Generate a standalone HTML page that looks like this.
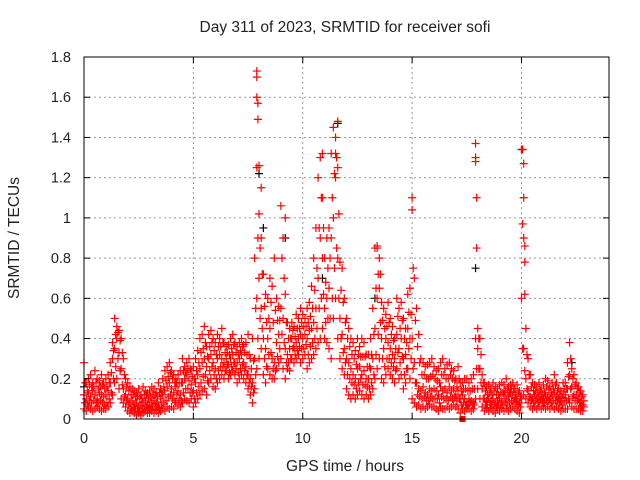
<!DOCTYPE html>
<html><head><meta charset="utf-8"><style>
body{margin:0;background:#fff}
svg{display:block;font-family:"Liberation Sans",sans-serif}
</style></head><body>
<svg id="chart" width="640" height="480" viewBox="0 0 640 480">
<rect x="0" y="0" width="640" height="480" fill="#fff"/>
<text x="345" y="32" text-anchor="middle" font-size="15.5" fill="#222">Day 311 of 2023, SRMTID for receiver sofi</text>
<text x="345" y="471" text-anchor="middle" font-size="15.5" fill="#222">GPS time / hours</text>
<text transform="translate(19,238) rotate(-90)" text-anchor="middle" font-size="15.5" fill="#222">SRMTID / TECUs</text>
<g id="grid"></g>
<g id="marks"></g>
<rect x="84" y="57" width="525" height="362" fill="none" stroke="#000" stroke-width="1"/>
<g id="axes"></g>
</svg>
<script>
const xTicks = [0, 5, 10, 15, 20];
const yTicks = [0, 0.2, 0.4, 0.6, 0.8, 1, 1.2, 1.4, 1.6, 1.8];
const yTickLabels = ["0","0.2","0.4","0.6","0.8","1","1.2","1.4","1.6","1.8"];
const hours = [0.0,0.1,0.2,0.3,0.4,0.5,0.6,0.7,0.8,0.9,1.0,1.1,1.2,1.3,1.4,1.5,1.6,1.7,1.8,1.9,2.0,2.1,2.2,2.3,2.4,2.5,2.6,2.7,2.8,2.9,3.0,3.1,3.2,3.3,3.4,3.5,3.6,3.7,3.8,3.9,4.0,4.1,4.2,4.3,4.4,4.5,4.6,4.7,4.8,4.9,5.0,5.1,5.2,5.3,5.4,5.5,5.6,5.7,5.8,5.9,6.0,6.1,6.2,6.3,6.4,6.5,6.6,6.7,6.8,6.9,7.0,7.1,7.2,7.3,7.4,7.5,7.6,7.7,7.8,7.9,8.0,8.1,8.2,8.3,8.4,8.5,8.6,8.7,8.8,8.9,9.0,9.1,9.2,9.3,9.4,9.5,9.6,9.7,9.8,9.9,10.0,10.1,10.2,10.3,10.4,10.5,10.6,10.7,10.8,10.9,11.0,11.1,11.2,11.3,11.4,11.5,11.6,11.7,11.8,11.9,12.0,12.1,12.2,12.3,12.4,12.5,12.6,12.7,12.8,12.9,13.0,13.1,13.2,13.3,13.4,13.5,13.6,13.7,13.8,13.9,14.0,14.1,14.2,14.3,14.4,14.5,14.6,14.7,14.8,14.9,15.0,15.1,15.2,15.3,15.4,15.5,15.6,15.7,15.8,15.9,16.0,16.1,16.2,16.3,16.4,16.5,16.6,16.7,16.8,16.9,17.0,17.1,17.2,17.3,17.4,17.5,17.6,17.7,17.8,17.9,18.0,18.1,18.2,18.3,18.4,18.5,18.6,18.7,18.8,18.9,19.0,19.1,19.2,19.3,19.4,19.5,19.6,19.7,19.8,19.9,20.0,20.1,20.2,20.3,20.4,20.5,20.6,20.7,20.8,20.9,21.0,21.1,21.2,21.3,21.4,21.5,21.6,21.7,21.8,21.9,22.0,22.1,22.2,22.3,22.4,22.5,22.6,22.7,22.8];
const tecLow = [.05,.04,.06,.05,.04,.05,.06,.05,.04,.05, .05,.06,.08,.12,.18,.20,.15,.10,.08,.06, .04,.03,.04,.03,.02,.03,.02,.03,.04,.03, .03,.04,.03,.04,.03,.04,.05,.04,.06,.05, .06,.05,.08,.07,.06,.08,.10,.09,.08,.10, .06,.08,.10,.12,.14,.15,.12,.18,.20,.16, .15,.18,.20,.22,.20,.24,.20,.22,.24,.22, .18,.20,.22,.20,.18,.15,.12,.08,.15,.25, .30,.35,.22,.18,.25,.22,.20,.20,.25,.28, .30,.25,.20,.25,.24,.30,.28,.30,.32,.28, .30,.32,.25,.28,.30,.32,.35,.38,.40,.45, .40,.38,.35,.30,.50,.60,.40,.30,.25,.22, .15,.12,.10,.12,.10,.12,.14,.12,.10,.12, .10,.12,.15,.20,.25,.30,.20,.18,.22,.25, .22,.20,.18,.25,.20,.22,.15,.18,.25,.20, .10,.08,.06,.07,.05,.06,.05,.06,.07,.06, .06,.05,.04,.06,.05,.05,.06,.05,.06,.07, .06,.05,.03,.05,.04,.05,.05,.04,.05,.10, .15,.10,.06,.04,.05,.04,.05,.04,.03,.05, .04,.05,.04,.05,.04,.05,.06,.05,.04,.03, .10,.12,.10,.08,.06,.05,.06,.05,.06,.05, .06,.05,.06,.05,.06,.05,.06,.05,.04,.05, .05,.05,.08,.06,.05,.05,.05,.04,.04];
const tecQ1 = [.08,.07,.09,.08,.09,.08,.08,.09,.08,.07, .08,.10,.13,.20,.26,.30,.24,.17,.11,.09, .07,.05,.06,.05,.05,.04,.05,.05,.06,.05, .05,.06,.06,.06,.05,.07,.08,.09,.11,.12, .10,.09,.12,.10,.09,.13,.15,.15,.13,.13, .10,.13,.16,.18,.21,.22,.19,.24,.26,.22, .20,.24,.26,.26,.24,.27,.23,.26,.28,.25, .23,.25,.27,.24,.22,.18,.16,.13,.22,.40, .50,.45,.30,.26,.32,.33,.25,.24,.31,.35, .42,.38,.28,.28,.30,.35,.32,.34,.36,.35, .35,.37,.32,.36,.38,.40,.45,.55,.60,.62, .48,.50,.50,.60,.75,.85,.60,.40,.33,.28, .22,.20,.18,.17,.15,.18,.20,.17,.17,.16, .15,.18,.22,.32,.42,.48,.30,.26,.30,.30, .28,.26,.24,.33,.28,.31,.22,.25,.35,.30, .25,.18,.12,.11,.10,.11,.09,.09,.11,.10, .10,.10,.08,.11,.10,.10,.09,.11,.10,.11, .09,.10,.07,.08,.07,.07,.08,.07,.07,.25, .25,.18,.10,.07,.07,.07,.07,.07,.06,.07, .07,.07,.08,.07,.08,.09,.09,.08,.07,.06, .35,.24,.15,.11,.09,.08,.09,.08,.09,.08, .08,.09,.09,.08,.09,.09,.09,.08,.07,.09, .09,.10,.15,.11,.09,.09,.08,.06,.06];
const tecMid = [.12,.10,.13,.11,.14,.12,.10,.13,.12,.11, .12,.14,.18,.30,.35,.40,.33,.25,.15,.12, .10,.08,.09,.07,.08,.06,.07,.08,.09,.07, .07,.08,.09,.08,.07,.10,.12,.14,.16,.18, .15,.13,.16,.14,.12,.18,.20,.22,.19,.17, .14,.18,.22,.25,.28,.30,.26,.30,.32,.28, .25,.30,.32,.30,.28,.30,.27,.30,.32,.28, .28,.30,.32,.28,.26,.22,.20,.18,.30,.60, .70,.55,.40,.35,.40,.45,.30,.28,.38,.42, .55,.50,.35,.32,.35,.40,.36,.38,.40,.42, .40,.42,.40,.44,.45,.48,.55,.70,.90,.80, .55,.60,.65,.90,1.00,1.20,.80,.50,.42,.35, .30,.28,.25,.22,.20,.25,.26,.22,.24,.20, .20,.25,.30,.45,.60,.65,.40,.35,.40,.38, .35,.32,.30,.42,.35,.40,.30,.32,.45,.40, .40,.28,.18,.15,.14,.16,.13,.12,.15,.14, .15,.14,.12,.16,.14,.15,.13,.16,.14,.15, .12,.14,.10,.12,.10,.08,.10,.09,.08,.40, .35,.25,.15,.10,.09,.10,.09,.10,.08,.09, .10,.09,.12,.10,.11,.13,.12,.10,.09,.08, .60,.35,.20,.14,.11,.10,.12,.10,.11,.10, .10,.12,.11,.10,.12,.13,.11,.10,.09,.12, .12,.15,.22,.16,.12,.12,.10,.08,.07];
const tecQ3 = [.18,.14,.17,.16,.16,.18,.15,.16,.17,.15, .16,.18,.23,.34,.42,.43,.39,.33,.22,.16, .14,.12,.12,.11,.11,.10,.10,.12,.12,.10, .11,.12,.12,.11,.13,.13,.16,.19,.21,.23, .20,.18,.18,.18,.18,.24,.23,.25,.25,.21, .20,.24,.28,.33,.35,.38,.31,.36,.38,.34, .32,.36,.36,.38,.33,.33,.32,.35,.37,.33, .32,.34,.36,.33,.32,.32,.25,.29,.55,.90, .85,.72,.56,.48,.50,.58,.48,.54,.49,.49, .80,.70,.48,.40,.40,.44,.41,.45,.45,.48, .46,.46,.48,.51,.55,.64,.75,.95,1.10,.95, .68,.75,.80,1.10,1.22,1.30,1.02,.64,.58,.48, .40,.36,.32,.30,.27,.32,.31,.31,.31,.26, .26,.32,.42,.65,.72,.72,.49,.45,.46,.48, .42,.39,.35,.51,.45,.49,.40,.38,.53,.52, .75,.49,.36,.28,.22,.22,.20,.20,.21,.22, .20,.19,.18,.22,.22,.20,.20,.22,.20,.19, .16,.20,.14,.15,.15,.14,.14,.15,.15,.85, .40,.32,.18,.14,.12,.13,.12,.14,.12,.12, .13,.13,.14,.15,.13,.15,.15,.12,.13,.11, .97,.62,.32,.22,.16,.14,.14,.13,.14,.12, .13,.16,.15,.13,.15,.17,.14,.12,.11,.15, .15,.21,.30,.20,.17,.15,.13,.11,.09];
const tecHigh = [.28,.18,.20,.22,.18,.24,.20,.19,.22,.18, .20,.22,.28,.38,.50,.46,.44,.40,.30,.20, .18,.16,.15,.14,.13,.15,.12,.16,.14,.13, .14,.16,.15,.13,.18,.15,.20,.24,.26,.28, .24,.22,.20,.22,.24,.30,.26,.28,.30,.24, .26,.30,.34,.40,.42,.46,.36,.42,.44,.40, .38,.42,.40,.45,.38,.36,.37,.40,.42,.38, .36,.38,.40,.37,.38,.42,.30,.40,.80,1.25, 1.02,.90,.72,.62,.60,.70,.66,.80,.60,.56, 1.06,.90,.62,.48,.45,.48,.46,.52,.50,.55, .52,.50,.55,.58,.66,.80,.95,1.20,1.30,1.10, .80,.90,.95,1.32,1.45,1.40,1.25,.78,.75,.60, .50,.45,.40,.38,.34,.40,.36,.40,.38,.32, .32,.40,.55,.85,.85,.80,.58,.55,.52,.58, .50,.46,.40,.60,.55,.58,.50,.45,.62,.65, 1.10,.70,.55,.42,.30,.28,.26,.27,.28,.30, .26,.24,.25,.28,.30,.25,.27,.28,.25,.24, .20,.26,.18,.18,.20,.20,.18,.20,.22,1.30, .45,.40,.22,.18,.16,.17,.15,.18,.16,.15, .17,.18,.17,.20,.16,.17,.18,.15,.17,.14, 1.34,.90,.45,.30,.22,.18,.17,.16,.18,.15, .17,.20,.19,.16,.18,.22,.18,.15,.14,.18, .18,.28,.38,.25,.22,.18,.16,.14,.12];
const spikeHours = [7.9,7.9,7.9,7.95,7.95,8.0,8.1,9.2,11.6,11.5,11.55,10.9,17.9,17.9,17.95,20.05,20.1,20.1,20.15,20.15,15.0,13.4];
const spikeValues = [1.73,1.70,1.60,1.49,1.57,1.26,1.15,1.00,1.48,1.32,1.30,1.32,1.37,1.28,1.10,1.34,1.27,1.10,0.86,0.78,1.04,0.86];
const blackHours = [0.0,8.0,9.2,11.6,20.0,17.9,13.3,22.3,8.2,10.9];
const blackValues = [0.16,1.22,0.90,1.47,1.34,0.75,0.60,0.28,0.95,0.70];
const squareHours = [17.3];
const squareValues = [0.0];

const X0=84,X1=609,Y0=419,Y1=57,XMAX=24,YMAX=1.8;
function sx(h){return X0+(h/XMAX)*(X1-X0);}
function sy(v){return Y0-(v/YMAX)*(Y0-Y1);}
const NS="http://www.w3.org/2000/svg";
const grid=document.getElementById('grid'),axes=document.getElementById('axes'),marks=document.getElementById('marks');
function mk(tag,attrs,parent){const e=document.createElementNS(NS,tag);for(const k in attrs)e.setAttribute(k,attrs[k]);parent.appendChild(e);return e;}

xTicks.forEach(t=>{
  const x=sx(t);
  if(t>0){const g=mk('line',{x1:x,x2:x,y1:Y1,y2:Y0,stroke:'#999','stroke-dasharray':'2,3'},grid);
  
  }
  const a=mk('line',{x1:x,x2:x,y1:Y0,y2:Y0-6,stroke:'#000'},axes);
  
  
  const b=mk('line',{x1:x,x2:x,y1:Y1,y2:Y1+6,stroke:'#000'},axes);
  
  
  const l=mk('text',{x:x,y:443,'text-anchor':'middle','font-size':14.5,fill:'#222'},axes);
  l.textContent=String(t);
  
  
});
yTicks.forEach((t,i)=>{
  const y=sy(t);
  if(i>0&&i<yTicks.length-1){const g=mk('line',{x1:X0,x2:X1,y1:y,y2:y,stroke:'#999','stroke-dasharray':'2,3'},grid);
  
  }
  const a=mk('line',{x1:X0,x2:X0+6,y1:y,y2:y,stroke:'#000'},axes);
  
  
  const b=mk('line',{x1:X1,x2:X1-6,y1:y,y2:y,stroke:'#000'},axes);
  
  
  const l=mk('text',{x:71,y:y+5,'text-anchor':'end','font-size':14.5,fill:'#222'},axes);
  l.textContent=yTickLabels[i];
  
  
});
function plus(h,v,color,name){
  const x=sx(h),y=sy(v);
  const p=mk('path',{d:`M${x-4},${y}H${x+4}M${x},${y-4}V${y+4}`,stroke:color,'stroke-width':1.2,fill:'none'},marks);
  
  
}
blackHours.forEach((h,i)=>plus(h,blackValues[i],'#000','black-point'));
hours.forEach((h,i)=>{
  plus(h,tecLow[i],'#f00','point-low');
  plus(h+0.05,tecQ1[i],'#f00','point-q1');
  plus(h,tecMid[i],'#f00','point-mid');
  plus(h+0.05,tecQ3[i],'#f00','point-q3');
  plus(h,tecHigh[i],'#f00','point-high');
});
spikeHours.forEach((h,i)=>plus(h,spikeValues[i],'#f00','spike-point'));
squareHours.forEach((h,i)=>{
  const r=mk('rect',{x:sx(h)-3,y:sy(squareValues[i])-3,width:6,height:6,fill:'#f00'},marks);
  
  
});
</script>
</body></html>
